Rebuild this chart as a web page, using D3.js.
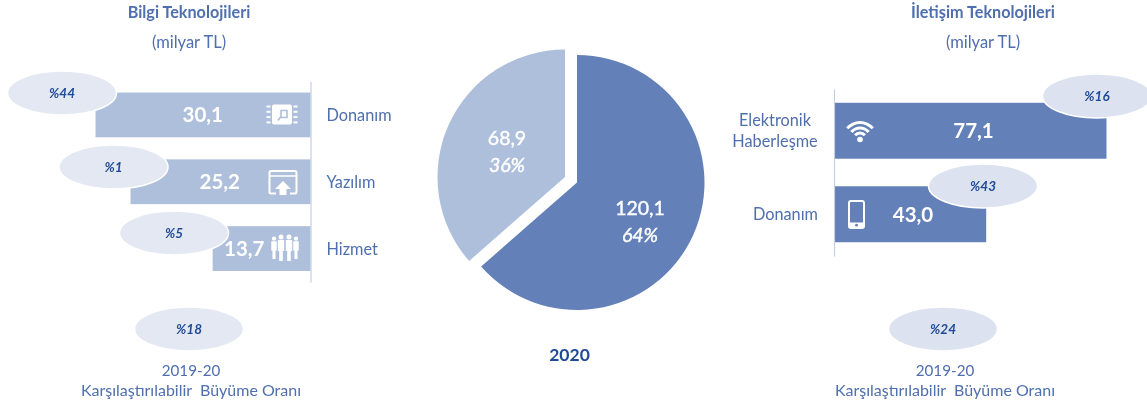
<!DOCTYPE html>
<html>
<head>
<meta charset="utf-8">
<script src="https://cdn.jsdelivr.net/npm/d3@7"></script>
<style>
  html, body { margin: 0; padding: 0; background: #fff; }
  svg { display: block; font-family: Lato, "Open Sans", sans-serif; filter: blur(0.3px); }
</style>
</head>
<body>
<svg id="chart" width="1147" height="407"></svg>
<script>
// values
const itCategories = ['Donanım', 'Yazılım', 'Hizmet']
const itValues = [30.1, 25.2, 13.7]
const itGrowth = ['%44', '%1', '%5']
const itTotalGrowth = '%18'

const telCategories = ['Elektronik\nHaberleşme', 'Donanım']
const telValues = [77.1, 43.0]
const telGrowth = ['%16', '%43']
const telTotalGrowth = '%24'

const pieValues = [120.1, 68.9]
const pieShares = ['64%', '36%']
const pieYear = '2020'

const DARK = '#6380b8'
const LIGHT = '#aebfdb'
const TEXT = '#4f6fae'
const NAVY = '#1f4a96'

const svg = d3.select('#chart')
const fmt = v => v.toFixed(1).replace('.', ',')

function heading(cx, title) {
  svg.append('text').attr('x', cx).attr('y', 18).attr('text-anchor', 'middle')
    .attr('font-size', 16.2).attr('font-weight', 700).attr('fill', TEXT).text(title)
  svg.append('text').attr('x', cx).attr('y', 48).attr('text-anchor', 'middle')
    .attr('font-size', 16.5).attr('fill', TEXT).text('(milyar TL)')
}

function bubble(cx, cy, label, fill) {
  svg.append('ellipse').attr('cx', cx).attr('cy', cy).attr('rx', 54.5).attr('ry', 22)
    .attr('fill', fill).attr('stroke', '#fff').attr('stroke-width', 1.5)
  svg.append('text').attr('x', cx).attr('y', cy + 5).attr('text-anchor', 'middle')
    .attr('font-size', 13.5).attr('font-weight', 700).attr('font-style', 'italic')
    .attr('fill', NAVY).text(label)
}

function footer(cx, textX, label, fill) {
  bubble(cx, 329, label, fill)
  svg.append('text').attr('x', textX).attr('y', 376).attr('text-anchor', 'middle')
    .attr('font-size', 15.2).attr('fill', TEXT).text('2019-20')
  svg.append('text').attr('x', textX).attr('y', 396).attr('text-anchor', 'middle')
    .attr('font-size', 16).attr('fill', TEXT).attr('xml:space', 'preserve')
    .text('Karşılaştırılabilir  Büyüme Oranı')
}

function axisStyle(g) {
  g.select('.domain').attr('stroke', '#c3cfe5').attr('stroke-width', 1.2)
  g.selectAll('.tick line').remove()
  g.selectAll('.tick text').attr('font-size', 16.3).attr('font-family', 'Lato').attr('fill', TEXT).attr('dy', '0.38em')
}

// icons, drawn around their own centre
const icons = {
  chip(g) {
    g.append('rect').attr('x', -10).attr('y', -10).attr('width', 20).attr('height', 20).attr('rx', 2).attr('fill', '#fff')
    g.append('path').attr('d', 'M-4,6 L-1,2 V-4 H5 V3 H-1').attr('fill', 'none').attr('stroke', LIGHT).attr('stroke-width', 1.6)
    d3.range(-8, 9, 5.3).forEach(y => {
      g.append('rect').attr('x', -15.5).attr('y', y - 1).attr('width', 4).attr('height', 2).attr('fill', '#fff')
      g.append('rect').attr('x', 11.5).attr('y', y - 1).attr('width', 4).attr('height', 2).attr('fill', '#fff')
    })
  },
  browser(g) {
    g.append('path').attr('d', 'M-7,11.5 H-12 Q-13.5,11.5 -13.5,10 V-9 Q-13.5,-11 -12,-11 H12 Q13.5,-11 13.5,-9 V10 Q13.5,11.5 12,11.5 H7')
      .attr('fill', 'none').attr('stroke', '#fff').attr('stroke-width', 2)
    g.append('path').attr('d', 'M-13,-6 H13').attr('stroke', '#fff').attr('stroke-width', 1.5)
    g.append('path').attr('d', 'M0,-1 L8,7 H3.5 V13 H-3.5 V7 H-8 Z').attr('fill', '#fff')
  },
  people(g) {
    const one = (x, s) => {
      g.append('circle').attr('cx', x).attr('cy', -11 * s).attr('r', 2.5 * s).attr('fill', '#fff')
      g.append('path').attr('d', `M${x - 3.2 * s},${-8 * s} H${x + 3.2 * s} V${3 * s} H${x + 1.8 * s} V${13 * s} H${x - 1.8 * s} V${3 * s} H${x - 3.2 * s} Z`).attr('fill', '#fff')
    }
    one(-11, 0.85); one(11, 0.85); one(-4, 1); one(4, 1)
  },
  wifi(g) {
    const arc = d3.arc().startAngle(-0.85).endAngle(0.85)
    ;[[5, 8], [10, 13], [15.5, 18.5]].forEach(([r0, r1]) => {
      g.append('path').attr('d', arc({ innerRadius: r0, outerRadius: r1 })).attr('fill', '#fff').attr('transform', 'translate(0,8.5)')
    })
    g.append('circle').attr('cy', 8.5).attr('r', 2.8).attr('fill', '#fff')
  },
  phone(g) {
    g.append('rect').attr('x', -7.5).attr('y', -13.5).attr('width', 15).attr('height', 27).attr('rx', 2)
      .attr('fill', 'none').attr('stroke', '#fff').attr('stroke-width', 2)
    g.append('rect').attr('x', -7.5).attr('y', 8).attr('width', 15).attr('height', 5.5).attr('fill', '#fff')
    g.append('circle').attr('cy', 10.7).attr('r', 1.4).attr('fill', DARK)
  }
}
const drawIcon = (name, x, y) => icons[name](svg.append('g').attr('transform', `translate(${x},${y})`))

// left panel
heading(189, 'Bilgi Teknolojileri')
const xLeft = d3.scaleLinear().domain([0, 30.1]).range([310.5, 95.5])
const yLeft = d3.scaleBand().domain(itCategories).range([81.5, 282]).paddingInner(0.33).paddingOuter(0.165)

svg.selectAll('.it-bar').data(itValues).enter().append('rect')
  .attr('class', 'it-bar')
  .attr('x', d => xLeft(d))
  .attr('y', (d, i) => yLeft(itCategories[i]))
  .attr('width', d => xLeft(0) - xLeft(d))
  .attr('height', yLeft.bandwidth())
  .attr('fill', LIGHT)

svg.append('g').attr('transform', 'translate(310.5,0)')
  .call(d3.axisRight(yLeft).tickSize(0).tickPadding(16)).call(axisStyle)

const itValueEnd = [223, 240, 264.5]
svg.selectAll('.it-val').data(itValues).enter().append('text')
  .attr('class', 'it-val')
  .attr('x', (d, i) => itValueEnd[i])
  .attr('y', (d, i) => yLeft(itCategories[i]) + yLeft.bandwidth() / 2 + 7.5)
  .attr('text-anchor', 'end').attr('font-size', 20.5).attr('font-weight', 700).attr('fill', '#fff')
  .text(fmt)

;['chip', 'browser', 'people'].forEach((n, i) => drawIcon(n, [282, 283, 285][i], [114.5, 182, 248][i]))

const itBubbleX = [62, 113.5, 174]
const itBubbleY = [93, 167, 233]
itGrowth.forEach((t, i) => bubble(itBubbleX[i], itBubbleY[i], t, '#e3e8f3'))
footer(189, 191, itTotalGrowth, '#e3e8f3')

// right panel
heading(983, 'İletişim Teknolojileri')
const xRight = d3.scaleLinear().domain([0, 77.1]).range([834.5, 1106.5])
const yRight = d3.scaleBand().domain(telCategories).range([89, 256]).paddingInner(0.33).paddingOuter(0.165)

svg.selectAll('.tel-bar').data(telValues).enter().append('rect')
  .attr('class', 'tel-bar')
  .attr('x', xRight(0))
  .attr('y', (d, i) => yRight(telCategories[i]))
  .attr('width', d => xRight(d) - xRight(0))
  .attr('height', yRight.bandwidth())
  .attr('fill', DARK)

const telAxis = svg.append('g').attr('transform', 'translate(834,0)')
  .call(d3.axisLeft(yRight).tickSize(0).tickPadding(16)).call(axisStyle)

telAxis.selectAll('.tick text').each(function (d) {
  const lines = d.split('\n')
  if (lines.length < 2) return
  const t = d3.select(this).text(null).attr('text-anchor', 'middle').attr('dy', null)
  lines.forEach((l, i) => {
    t.append('tspan').attr('x', -59).attr('y', i * 21.5 - 5).text(l)
  })
})

const telValueX = [973.5, 913]
svg.selectAll('.tel-val').data(telValues).enter().append('text')
  .attr('class', 'tel-val')
  .attr('x', (d, i) => telValueX[i])
  .attr('y', (d, i) => yRight(telCategories[i]) + yRight.bandwidth() / 2 + 7.5)
  .attr('text-anchor', 'middle').attr('font-size', 20.5).attr('font-weight', 700).attr('fill', '#fff')
  .text(fmt)

drawIcon('wifi', 860, 131)
drawIcon('phone', 856.5, 214.5)

const telBubbleX = [1097, 983]
const telBubbleY = [96, 186]
telGrowth.forEach((t, i) => bubble(telBubbleX[i], telBubbleY[i], t, '#dce2ef'))
footer(943, 945, telTotalGrowth, '#dce2ef')

// pie
const pie = d3.pie().sort(null)(pieValues)
const arc = d3.arc().innerRadius(0).outerRadius(127.5)
const pieOffset = [[0, 0], [-12, -5.5]]
const pieFill = [DARK, LIGHT]

const slices = svg.selectAll('.slice').data(pie).enter().append('g')
  .attr('class', 'slice')
  .attr('transform', (d, i) => `translate(${577 + pieOffset[i][0]},${182.5 + pieOffset[i][1]})`)

slices.append('path').attr('d', arc).attr('fill', (d, i) => pieFill[i])

const pieLabelPos = [[63, 32.5], [-58, -32]]
slices.append('text')
  .attr('x', (d, i) => pieLabelPos[i][0])
  .attr('y', (d, i) => pieLabelPos[i][1])
  .attr('text-anchor', 'middle').attr('font-size', 19.5).attr('fill', '#fff')
  .attr('stroke', '#fff').attr('stroke-width', 0.4)
  .text(d => fmt(d.value))
slices.append('text')
  .attr('x', (d, i) => pieLabelPos[i][0])
  .attr('y', (d, i) => pieLabelPos[i][1] + 27)
  .attr('text-anchor', 'middle').attr('font-size', 19.5).attr('font-style', 'italic').attr('fill', '#fff')
  .attr('stroke', '#fff').attr('stroke-width', 0.4)
  .text((d, i) => pieShares[i])

svg.append('text').attr('x', 569.5).attr('y', 361).attr('text-anchor', 'middle')
  .attr('font-size', 17.5).attr('font-weight', 700).attr('fill', NAVY).text(pieYear)
</script>
</body>
</html>
